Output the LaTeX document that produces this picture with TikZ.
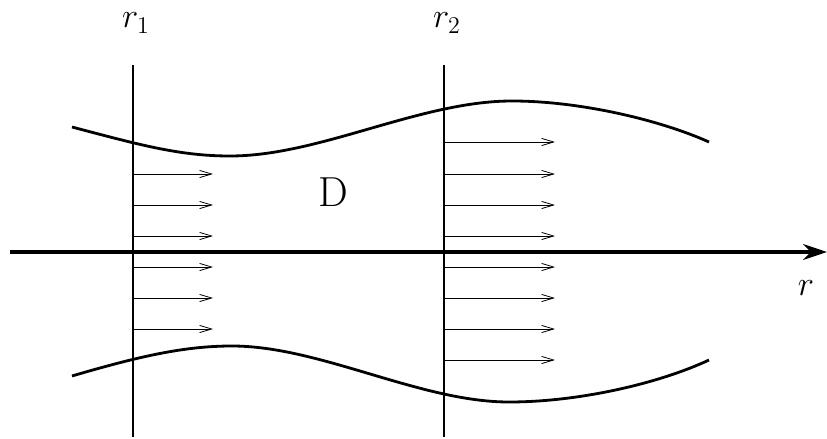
\documentclass[tikz,border=0pt]{standalone}
\usepackage{amsmath,amssymb}
\usepackage{tikz}
\usetikzlibrary{arrows.meta}

\begin{document}
\begin{tikzpicture}[
  x=0.5pt, y=-0.5pt,
  every node/.style={inner sep=0pt},
  lab/.style={font=\fontsize{18}{22}\selectfont},
  section/.style={line width=0.65pt},
  wall/.style={line width=1.4pt},
  axis/.style={line width=1.7pt, -{Stealth[length=12pt, width=8pt]}},
  flow/.style={line width=0.4pt, -{Straight Barb[length=6pt, width=3.6pt]}}
]
\useasboundingbox (0,0) rectangle (827,439);

% cross sections
\coordinate (s1top) at (133,65);
\coordinate (s1bot) at (133,437);
\coordinate (s2top) at (444,65);
\coordinate (s2bot) at (444,437);
\draw[section] (s1top) -- (s1bot);
\draw[section] (s2top) -- (s2bot);

\node[lab] (r1) at (136,23) {$r_1$};
\node[lab] (r2) at (447,23) {$r_2$};

% axis
\coordinate (axl) at (10,252);
\coordinate (axr) at (827,252);
\draw[axis] (axl) -- (axr);
\node[lab] (rlab) at (806,288) {$r$};

% walls of the domain
\draw[wall] (72,127) .. controls (140,145) and (180,156) .. (230,156)
  .. controls (320,156) and (420,101) .. (512,101)
  .. controls (580,101) and (660,120) .. (709,142);
\draw[wall] (72,376) .. controls (140,356) and (185,346) .. (232,346)
  .. controls (320,346) and (420,402) .. (509,402)
  .. controls (580,402) and (660,383) .. (709,360);

\node[font=\fontsize{21}{24}\selectfont] (dom) at (333,192) {D};

% velocity profiles
\foreach \y in {174,205,236,267,298,329}
  \draw[flow] (133,\y) -- (213,\y);
\foreach \y in {142,174,205,236,267,298,329,360}
  \draw[flow] (444,\y) -- (555,\y);
\end{tikzpicture}
\end{document}
